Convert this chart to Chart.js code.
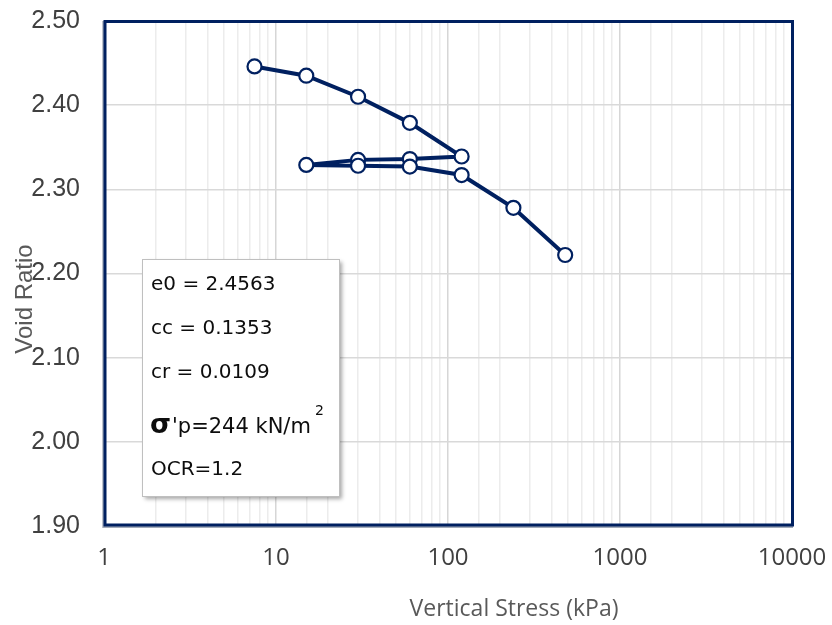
<!DOCTYPE html>
<html>
<head>
<meta charset="utf-8">
<script src="https://cdn.jsdelivr.net/npm/chart.js@4.4.1/dist/chart.umd.min.js"></script>
<style>
  html, body { margin: 0; padding: 0; background: #ffffff; }
  #wrap { width: 832px; height: 625px; position: relative; }
</style>
</head>
<body>
<div id="wrap"><canvas id="c" width="832" height="625"></canvas></div>
<script>
// ---- data ----
const stressKPa = [7.5, 15, 30, 60, 120, 60, 30, 15, 30, 60, 120, 240, 480];
const voidRatio = [2.446, 2.435, 2.410, 2.379, 2.339, 2.336, 2.335, 2.329, 2.328, 2.327, 2.317, 2.278, 2.222];
const xTickLabels = [1, 10, 100, 1000, 10000];
const yTicks = [1.90, 2.00, 2.10, 2.20, 2.30, 2.40, 2.50];
const annotationLines = ['e0 = 2.4563', 'cc = 0.1353', 'cr = 0.0109'];
const sigmaLine = { sym: 'σ', rest: "'p=244 kN/m", sup: '2' };
const ocrLine = 'OCR=1.2';
const xTitle = 'Vertical Stress (kPa)';
const yTitle = 'Void Ratio';

const NAVY = '#002060';
const points = stressKPa.map((x, i) => ({ x: x, y: voidRatio[i] }));

function isMajor(v) {
  const l = Math.log10(v);
  return Math.abs(l - Math.round(l)) < 1e-9;
}

const framePlugin = {
  id: 'frame',
  beforeDatasetsDraw(chart) {
    const { ctx, chartArea: a } = chart;
    ctx.save();
    ctx.strokeStyle = '#a3abb9';
    ctx.lineWidth = 2;
    ctx.beginPath();
    ctx.moveTo(a.left - 0.7, a.top);
    ctx.lineTo(a.left - 0.7, a.bottom + 1);
    ctx.lineTo(a.right + 1, a.bottom + 1);
    ctx.stroke();
    ctx.strokeStyle = NAVY;
    ctx.lineWidth = 3;
    ctx.strokeRect(a.left + 1, a.top + 0.5, a.right - a.left - 0.5, a.bottom - a.top - 1.5);
    ctx.restore();
  }
};

const textPlugin = {
  id: 'texts',
  afterDraw(chart) {
    const { ctx } = chart;
    ctx.save();
    ctx.fillStyle = '#595959';
    ctx.font = '24px "Liberation Sans", Arial, sans-serif';
    ctx.textAlign = 'center';
    ctx.textBaseline = 'middle';
    ctx.translate(25, 299);
    ctx.rotate(-Math.PI / 2);
    ctx.fillText(yTitle, 0, 0);
    ctx.setTransform(1, 0, 0, 1, 0, 0);
    ctx.font = '23px "Open Sans", sans-serif';
    ctx.fillText(xTitle, 514, 609);

    const bx = 142, by = 259, bw = 197, bh = 237;
    ctx.save();
    ctx.shadowColor = 'rgba(0,0,0,0.35)';
    ctx.shadowBlur = 4;
    ctx.shadowOffsetX = 3;
    ctx.shadowOffsetY = 3;
    ctx.fillStyle = '#ffffff';
    ctx.fillRect(bx, by, bw, bh);
    ctx.restore();
    ctx.strokeStyle = '#bfbfbf';
    ctx.lineWidth = 1;
    ctx.strokeRect(bx + 0.5, by + 0.5, bw, bh);

    ctx.fillStyle = '#0d0d0d';
    ctx.textAlign = 'left';
    ctx.textBaseline = 'middle';
    ctx.font = '20px "DejaVu Sans", sans-serif';
    const ys = [285, 329, 373];
    annotationLines.forEach((t, i) => ctx.fillText(t, 151, ys[i]));
    ctx.font = 'bold 27px "DejaVu Sans", sans-serif';
    ctx.fillText(sigmaLine.sym, 150, 426);
    const sw = ctx.measureText(sigmaLine.sym).width;
    ctx.font = '21px "DejaVu Sans", sans-serif';
    ctx.fillText(sigmaLine.rest, 150 + sw + 1, 428);
    const rw = ctx.measureText(sigmaLine.rest).width;
    ctx.font = '14px "DejaVu Sans", sans-serif';
    ctx.fillText(sigmaLine.sup, 150 + sw + 1 + rw + 4, 411);
    ctx.font = '20px "DejaVu Sans", sans-serif';
    ctx.fillText(ocrLine, 151, 470);
    ctx.restore();
  }
};

new Chart(document.getElementById('c'), {
  type: 'scatter',
  data: {
    datasets: [{
      data: points,
      showLine: true,
      borderColor: NAVY,
      borderWidth: 4,
      pointRadius: 7,
      pointHoverRadius: 7,
      pointBackgroundColor: '#ffffff',
      pointBorderColor: NAVY,
      pointBorderWidth: 2.2,
      tension: 0
    }]
  },
  options: {
    responsive: false,
    animation: false,
    layout: { padding: { left: 0, right: 40, top: 21, bottom: 0 } },
    plugins: { legend: { display: false }, tooltip: { enabled: false } },
    scales: {
      x: {
        type: 'logarithmic',
        min: 1,
        max: 10000,
        border: { display: false },
        grid: {
          drawTicks: false,
          color: (c) => (c.tick && isMajor(c.tick.value)) ? '#d6d6d6' : '#ececec',
          lineWidth: 1.5
        },
        ticks: {
          autoSkip: false,
          maxRotation: 0,
          padding: 18,
          color: '#404040',
          font: { family: '"Open Sans", sans-serif', size: 24 },
          callback: (v) => (xTickLabels.includes(v) ? String(v) : '')
        },
        afterFit: (s) => { s.height = 99; s.paddingLeft = 0; s.paddingRight = 0; }
      },
      y: {
        min: 1.9,
        max: 2.5,
        border: { display: false },
        afterBuildTicks: (s) => { s.ticks = yTicks.map(v => ({ value: v })); },
        grid: { drawTicks: false, color: '#d9d9d9', lineWidth: 1.5 },
        ticks: {
          padding: 24,
          color: '#404040',
          font: { family: '"Liberation Sans", Arial, sans-serif', size: 25 },
          callback: (v) => Number(v).toFixed(2)
        },
        afterFit: (s) => { s.width = 104; s.paddingTop = 0; s.paddingBottom = 0; }
      }
    }
  },
  plugins: [framePlugin, textPlugin]
});
</script>
</body>
</html>
